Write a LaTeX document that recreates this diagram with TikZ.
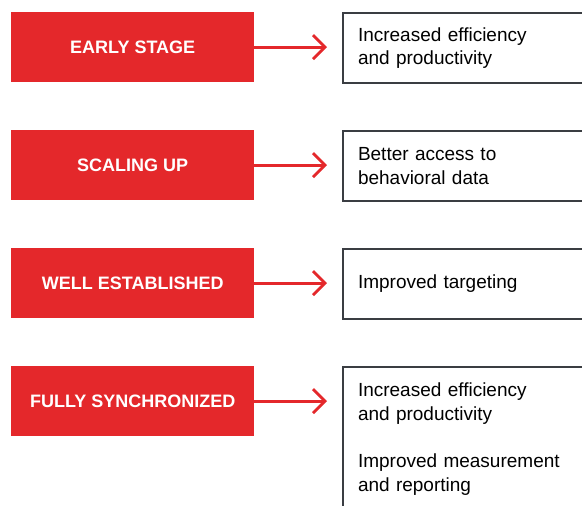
\documentclass[tikz,border=0pt]{standalone}
\usepackage{fontspec}
\setmainfont{Liberation Sans}
\usetikzlibrary{arrows.meta,positioning}
\definecolor{stagered}{RGB}{228,40,43}
\definecolor{framegray}{RGB}{58,61,66}

\begin{document}
\begin{tikzpicture}[x=1pt,y=-1pt,
    stage/.style={fill=stagered, text=white, font=\fontsize{18}{20}\selectfont\bfseries,
      minimum width=243pt, minimum height=70pt, inner sep=0pt, anchor=north west},
    gain/.style={draw=framegray, line width=2pt, font=\fontsize{19}{23.5}\selectfont,
      text width=230pt, inner xsep=15pt, align=left, minimum height=70pt, anchor=north west},
    link/.style={draw=stagered, line width=2.8pt, shorten >=15pt,
      -{Straight Barb[length=12pt,width=24pt]}}]
  \clip (0,0) rectangle (582,506);

  % Stages on the left
  \node[stage] (s1) at (11,12) {EARLY STAGE};
  \node[stage] (s2) at (11,130) {SCALING UP};
  \node[stage] (s3) at (11,248) {WELL ESTABLISHED};
  \node[stage] (s4) at (11,366) {FULLY SYNCHRONIZED};

  % Gains on the right
  \node[gain] (g1) at (342,12) {Increased efficiency\\and productivity};
  \node[gain] (g2) at (342,130) {Better access to\\behavioral data};
  \node[gain] (g3) at (342,248) {Improved targeting};
  \node[gain, minimum height=144pt] (g4) at (342,366)
    {Increased efficiency\\and productivity\\[24pt]Improved measurement\\and reporting};

  % Arrows
  \foreach \i in {1,...,4}
    \draw[link] (s\i.east) -- (s\i.east -| g\i.west);
\end{tikzpicture}
\end{document}
